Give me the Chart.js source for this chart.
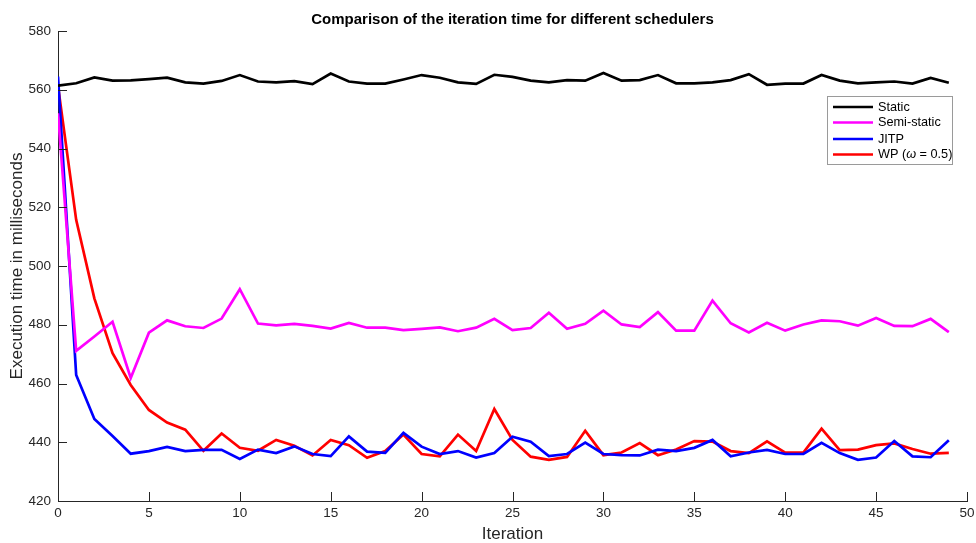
<!DOCTYPE html>
<html>
<head>
<meta charset="utf-8">
<script src="https://cdn.jsdelivr.net/npm/chart.js@4/dist/chart.umd.min.js"></script>
<style>
  html, body { margin: 0; padding: 0; background: #fff; }
  #wrap { width: 976px; height: 543px; }
</style>
</head>
<body>
<div id="wrap"><canvas id="timeChart" width="976" height="543"></canvas></div>
<script>
"use strict";

// iterations 0..49
const iterations = [0, 1, 2, 3, 4, 5, 6, 7, 8, 9, 10, 11, 12, 13, 14, 15, 16, 17, 18, 19,
  20, 21, 22, 23, 24, 25, 26, 27, 28, 29, 30, 31, 32, 33, 34, 35, 36, 37, 38, 39,
  40, 41, 42, 43, 44, 45, 46, 47, 48, 49];

// execution time in ms
const staticTimes = [561.4, 562.2, 564.2, 563.1, 563.2, 563.6, 564.1, 562.5, 562.1, 563.0,
  565.0, 562.8, 562.5, 562.9, 561.9, 565.5, 562.8, 562.1, 562.1, 563.5,
  565.0, 564.1, 562.5, 562.0, 565.1, 564.4, 563.1, 562.5, 563.3, 563.1,
  565.7, 563.1, 563.3, 565.0, 562.2, 562.2, 562.5, 563.3, 565.3, 561.7,
  562.1, 562.1, 565.0, 563.1, 562.2, 562.5, 562.8, 562.1, 564.0, 562.4];
const semiStaticTimes = [552.0, 471.1, 476.0, 481.0, 461.9, 477.3, 481.5, 479.5, 478.9, 482.1,
  492.1, 480.4, 479.8, 480.3, 479.6, 478.7, 480.6, 479.0, 479.0, 478.2,
  478.6, 479.1, 477.8, 479.0, 482.0, 478.2, 478.9, 484.1, 478.6, 480.3,
  484.8, 480.1, 479.2, 484.3, 478.0, 478.0, 488.2, 480.5, 477.4, 480.7,
  478.0, 480.1, 481.5, 481.2, 479.7, 482.3, 479.6, 479.5, 482.0, 477.5];
const jitpTimes = [564.5, 462.9, 447.9, 442.1, 436.1, 437.0, 438.4, 437.0, 437.4, 437.4,
  434.3, 437.5, 436.3, 438.6, 436.0, 435.3, 442.0, 436.8, 436.4, 443.2,
  438.5, 436.0, 437.0, 434.8, 436.3, 441.9, 440.2, 435.3, 436.0, 439.9,
  436.0, 435.6, 435.5, 437.5, 437.0, 438.1, 440.8, 435.2, 436.5, 437.4,
  436.0, 436.0, 439.8, 436.3, 434.0, 434.8, 440.4, 435.2, 434.9, 440.7];
const wpTimes = [561.3, 515.7, 489.0, 470.3, 459.5, 451.0, 446.7, 444.3, 437.1, 443.0,
  438.1, 437.1, 440.8, 438.8, 435.5, 440.8, 439.0, 434.7, 437.0, 442.6,
  436.0, 435.2, 442.6, 437.0, 451.3, 440.8, 435.1, 434.0, 435.0, 443.9,
  435.6, 436.5, 439.7, 435.6, 437.5, 440.4, 440.2, 437.0, 436.3, 440.3,
  436.5, 436.5, 444.6, 437.3, 437.5, 439.0, 439.6, 437.7, 436.1, 436.4];

const seriesNames = ["Static", "Semi-static", "JITP", "WP (\u03c9 = 0.5)"];
const seriesColors = ["#000000", "#ff00ff", "#0000ff", "#ff0000"];
const seriesValues = [staticTimes, semiStaticTimes, jitpTimes, wpTimes];

const xTicks = [0, 5, 10, 15, 20, 25, 30, 35, 40, 45, 50];
const yTicks = [420, 440, 460, 480, 500, 520, 540, 560, 580];

const FONT = "'Liberation Sans', Helvetica, Arial, sans-serif";
const TEXT = "#262626";
const AXIS = "#262626";

function points(values) {
  const pts = [];
  for (let i = 0; i < iterations.length; i++) {
    pts.push({ x: iterations[i], y: values[i] });
  }
  return pts;
}

const datasets = [];
for (let i = 0; i < seriesNames.length; i++) {
  datasets.push({
    label: seriesNames[i],
    data: points(seriesValues[i]),
    borderColor: seriesColors[i],
    backgroundColor: seriesColors[i],
    borderWidth: 2.7,
    pointRadius: 0,
    tension: 0,
    fill: false
  });
}

// matlab style ticks, pointing into the axes
const innerTicks = {
  id: "innerTicks",
  afterDatasetsDraw(chart) {
    const ctx = chart.ctx;
    const area = chart.chartArea;
    const xs = chart.scales.x;
    const ys = chart.scales.y;
    ctx.save();
    ctx.strokeStyle = AXIS;
    ctx.lineWidth = 1;
    ctx.beginPath();
    xTicks.forEach(function (t) {
      const px = Math.round(xs.getPixelForValue(t)) + 0.5;
      ctx.moveTo(px, area.bottom);
      ctx.lineTo(px, area.bottom - 9);
    });
    yTicks.forEach(function (t) {
      const py = Math.round(ys.getPixelForValue(t)) + 0.5;
      ctx.moveTo(area.left, py);
      ctx.lineTo(area.left + 9, py);
    });
    ctx.stroke();
    ctx.restore();
  }
};

// title centred over the plot area
const plotTitle = {
  id: "plotTitle",
  afterDraw(chart) {
    const ctx = chart.ctx;
    const area = chart.chartArea;
    ctx.save();
    ctx.fillStyle = "#000";
    ctx.font = "bold 15px " + FONT;
    ctx.textAlign = "center";
    ctx.textBaseline = "middle";
    ctx.fillText("Comparison of the iteration time for different schedulers", (area.left + area.right) / 2, 20);
    ctx.restore();
  }
};

// legend box inside the axes, top right
const boxLegend = {
  id: "boxLegend",
  afterDraw(chart) {
    const ctx = chart.ctx;
    const x0 = 827, y0 = 96, w = 125, h = 68;
    ctx.save();
    ctx.fillStyle = "#fff";
    ctx.fillRect(x0, y0, w, h);
    ctx.strokeStyle = "#9a9a9a";
    ctx.lineWidth = 1;
    ctx.strokeRect(x0 + 0.5, y0 + 0.5, w, h);
    const rows = [107, 122.5, 139, 154.5];
    ctx.textBaseline = "middle";
    ctx.textAlign = "left";
    for (let i = 0; i < seriesNames.length; i++) {
      const y = rows[i];
      ctx.strokeStyle = seriesColors[i];
      ctx.lineWidth = 2.7;
      ctx.beginPath();
      ctx.moveTo(833, y);
      ctx.lineTo(873, y);
      ctx.stroke();
      ctx.fillStyle = "#000";
      let tx = 878;
      if (i === 3) {
        const parts = [["WP (", ""], ["\u03c9", "italic "], [" = 0.5)", ""]];
        parts.forEach(function (p) {
          ctx.font = p[1] + "12.7px " + FONT;
          ctx.fillText(p[0], tx, y);
          tx += ctx.measureText(p[0]).width;
        });
      } else {
        ctx.font = "12.7px " + FONT;
        ctx.fillText(seriesNames[i], tx, y);
      }
    }
    ctx.restore();
  }
};

const config = {
  type: "line",
  data: { datasets: datasets },
  options: {
    responsive: false,
    animation: false,
    layout: { padding: { top: 31, right: 0, left: 0, bottom: 0 } },
    plugins: {
      legend: { display: false },
      title: { display: false },
      tooltip: { enabled: false }
    },
    scales: {
      x: {
        type: "linear",
        min: 0,
        max: 50,
        afterBuildTicks(scale) {
          scale.ticks = xTicks.map(function (v) { return { value: v }; });
        },
        afterFit(scale) {
          scale.height = 42;
          scale.paddingRight = 9;
        },
        grid: { display: true, drawOnChartArea: false, drawTicks: false },
        border: { display: true, color: AXIS, width: 1 },
        ticks: { color: TEXT, font: { family: FONT, size: 13.5 }, padding: 4, maxRotation: 0 },
        title: {
          display: true,
          text: "Iteration",
          color: TEXT,
          font: { family: FONT, size: 17, lineHeight: 1 },
          padding: { top: 0, bottom: 0.5 }
        }
      },
      y: {
        min: 420,
        max: 580,
        afterBuildTicks(scale) {
          scale.ticks = yTicks.map(function (v) { return { value: v }; });
        },
        afterFit(scale) { scale.width = 58; },
        grid: { display: true, drawOnChartArea: false, drawTicks: false },
        border: { display: true, color: AXIS, width: 1 },
        ticks: { color: TEXT, font: { family: FONT, size: 13.5 }, padding: 7 },
        title: {
          display: true,
          text: "Execution time in milliseconds",
          color: TEXT,
          font: { family: FONT, size: 17, lineHeight: 1 },
          padding: { top: 8.5, bottom: 0 }
        }
      }
    }
  },
  plugins: [innerTicks, plotTitle, boxLegend]
};

const timeChart = new Chart(document.getElementById("timeChart"), config);
</script>
</body>
</html>
